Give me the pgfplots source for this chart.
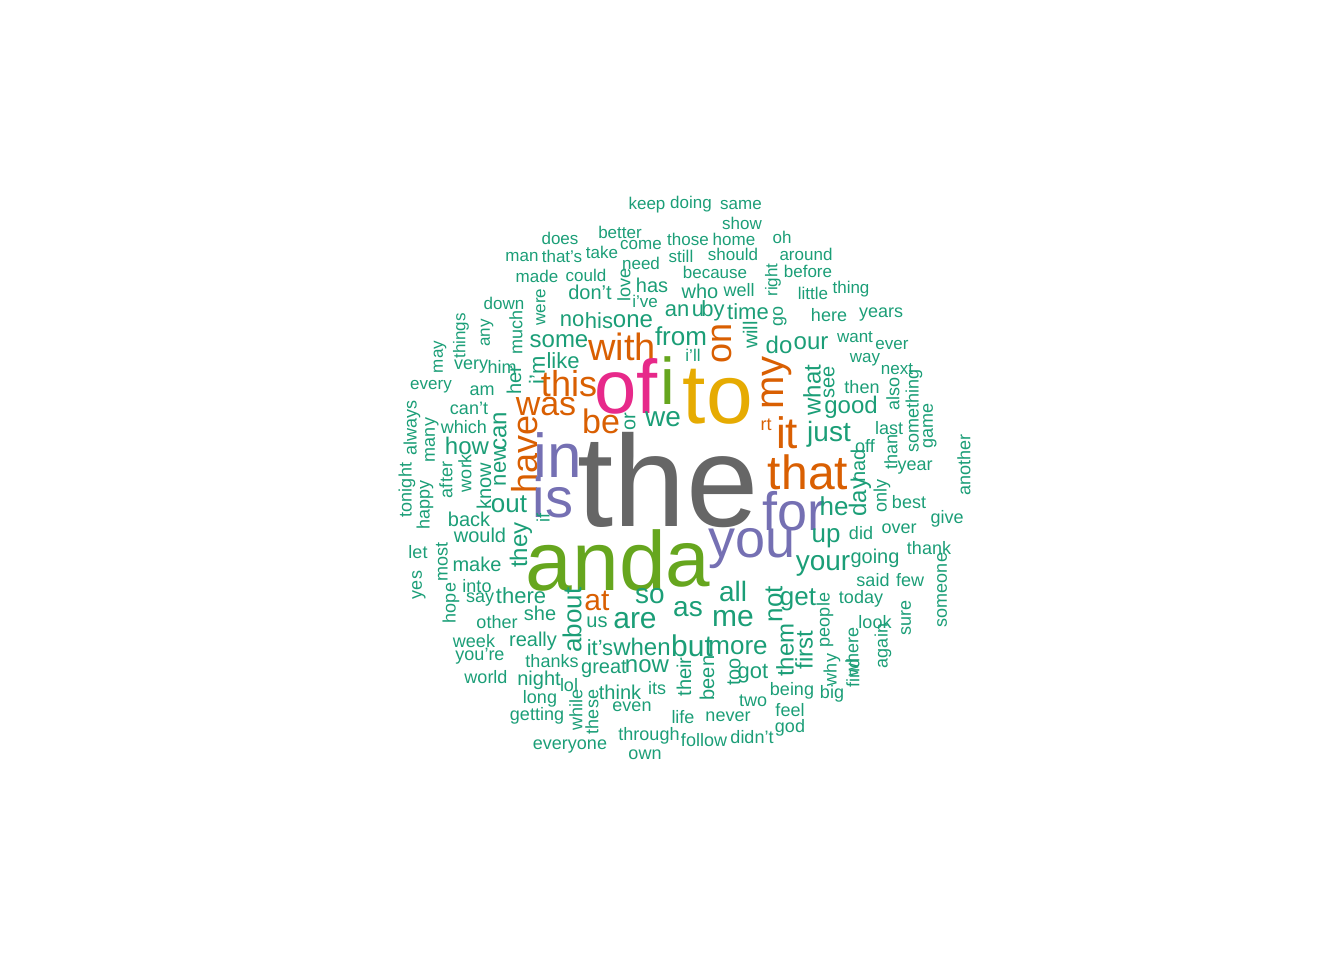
\documentclass[border=0pt]{standalone}
\usepackage{pgfplots}
\pgfplotsset{compat=1.18}
\usepackage{pgfplotstable}
\usepackage{fontspec}
\setmainfont{Liberation Sans}
\definecolor{d0}{HTML}{1B9E77}
\definecolor{d1}{HTML}{D95F02}
\definecolor{d2}{HTML}{7570B3}
\definecolor{d3}{HTML}{E7298A}
\definecolor{d4}{HTML}{66A61E}
\definecolor{d5}{HTML}{E6AB02}
\definecolor{d6}{HTML}{666666}
\pgfplotstableread{
x y s r c w
647 205 8.5 0 0 keep
691 204 8.5 0 0 doing
741 205 8.5 0 0 same
742 223 8.5 0 0 show
560 238 8.5 0 0 does
620 232 8.5 0 0 better
641 245 8.5 0 0 come
688 239 8.5 0 0 those
734 239 8.5 0 0 home
782 237 8.5 0 0 oh
522 257 8.5 0 0 man
562 256 8.5 0 0 that's
602 252 8.5 0 0 take
641 263 8.5 0 0 need
681 256 8.5 0 0 still
733 254 8.5 0 0 should
806 254 8.5 0 0 around
773 280 8.5 90 0 right
808 271 8.5 0 0 before
537 276 8.5 0 0 made
586 275 8.5 0 0 could
624 285 9 90 0 love
715 272 8.5 0 0 because
652 285 10 0 0 has
700 291 10 0 0 who
739 290 9 0 0 well
813 293 8.5 0 0 little
851 289 8.5 0 0 thing
590 292 10 0 0 don't
645 301 8.5 0 0 i've
504 303 8.5 0 0 down
541 307 8.5 90 0 were
461 336 8.5 90 0 things
487 333 8.5 90 0 any
516 332 9 90 0 much
677 311 11 0 0 an
698 311 11 0 0 u
713 311 11 0 0 by
748 312 11 0 0 time
780 316 9 90 0 go
829 315 9 0 0 here
881 315 9 0 0 years
572 321 11 0 0 no
599 321 11 0 0 his
633 321 12 0 0 one
681 336 13 0 0 from
722 343 18 90 1 on
750 335 10 90 0 will
779 345 12 0 0 do
811 343 12 0 0 our
855 337 8.5 0 0 want
892 345 8.5 0 0 ever
440 357 8.5 90 0 may
471 367 9 0 0 very
502 367 9 0 0 him
514 380 10 90 0 her
537 370 11 90 0 i'm
559 341 12 0 0 some
622 347 19 0 1 with
563 361 11 0 0 like
693 355 8.5 0 0 i'll
777 383 20 90 1 my
865 360 8.5 0 0 way
897 369 8.5 0 0 next
812 390 12 90 0 what
829 382 10 90 0 see
862 387 9 0 0 then
893 394 9 90 0 also
914 411 9 90 0 something
431 387 8.5 0 0 every
482 391 9 0 0 am
569 384 18 0 1 this
626 386 38 0 3 of
668 381 33 0 4 i
718 397 42 0 5 to
546 407 17 0 1 was
851 407 12 0 0 good
930 426 9 90 0 game
412 428 9 90 0 always
469 408 9 0 0 can't
500 431 12 90 0 can
601 421 17 0 1 be
630 422 10 90 0 or
663 419 14 0 0 we
766 425 9 0 1 rt
787 433 22 0 1 it
829 434 14 0 0 just
889 428 9 0 0 last
432 440 9 90 0 many
464 427 9 0 0 which
467 446 12 0 0 how
500 466 11 90 0 new
525 454 18 90 1 have
558 455 31 0 2 in
668 480 65 0 6 the
808 472 24 0 1 that
865 446 9 0 0 off
858 466 10 90 0 had
891 452 9 90 0 than
915 468 9 0 0 year
484 486 10 90 0 know
465 473 9 90 0 work
446 480 9 90 0 after
407 490 9 90 0 tonight
425 505 9 90 0 happy
964 465 9 90 0 another
553 497 28 0 2 is
860 497 12 90 0 day
882 496 9 90 0 only
909 502 9 0 0 best
509 504 13 0 0 out
794 511 27 0 2 for
834 506 13 0 0 he
947 519 9 0 0 give
469 519 10 0 0 back
543 518 9 90 0 if
480 535 10 0 0 would
521 545 12 90 0 they
826 538 13 0 0 up
861 533 9 0 0 did
899 529 9 0 0 over
596 560 42 0 4 and
688 565 40 0 4 a
752 549 27 0 2 you
929 548 9 0 0 thank
418 552 9 0 0 let
442 562 9 90 0 most
477 564 10 0 0 make
823 566 14 0 0 your
875 558 10 0 0 going
419 585 9 90 0 yes
477 586 9 0 0 into
480 600 9 0 0 say
873 580 9 0 0 said
910 580 9 0 0 few
942 590 9 90 0 someone
451 603 9 90 0 hope
521 596 11 0 0 there
733 591 14 0 0 all
774 604 13 90 0 not
798 600 13 0 0 get
861 599 9 0 0 today
540 613 10 0 0 she
572 620 13 90 0 about
597 601 15 0 1 at
650 596 14 0 0 so
688 609 14 0 0 as
733 619 15 0 0 me
825 620 9 90 0 people
906 618 9 90 0 sure
497 622 9 0 0 other
597 622 10 0 0 us
635 621 15 0 0 are
875 622 9 0 0 look
852 652 9 90 0 where
883 646 9 90 0 again
474 641 9 0 0 week
533 641 10 0 0 really
600 648 11 0 0 it's
642 647 12 0 0 when
692 646 15 0 0 but
738 648 13 0 0 more
785 650 12 90 0 them
804 650 12 90 0 first
480 656 9 0 0 you're
552 661 9 0 0 thanks
604 669 10 0 0 great
647 666 12 0 0 now
853 673 9 90 0 find
832 670 9 90 0 why
684 677 10 90 0 their
707 678 10 90 0 been
734 672 10 90 0 too
753 674 11 0 0 got
486 677 9 0 0 world
539 680 10 0 0 night
569 685 9 0 0 lol
620 692 10 0 0 think
657 688 9 0 0 its
792 691 9 0 0 being
832 694 9 0 0 big
540 699 9 0 0 long
753 701 9 0 0 two
576 710 9 90 0 while
592 712 9 90 0 these
632 707 9 0 0 even
790 710 9 0 0 feel
537 716 9 0 0 getting
683 717 9 0 0 life
728 717 9 0 0 never
790 728 9 0 0 god
649 736 9 0 0 through
704 740 9 0 0 follow
752 737 9 0 0 didn't
570 747 9 0 0 everyone
645 755 9 0 0 own
}\words
\newcommand\wcol[1]{\ifcase#1\relax\color{d0}\or\color{d1}\or\color{d2}\or\color{d3}\or\color{d4}\or\color{d5}\or\color{d6}\fi}
\begin{document}
\begin{tikzpicture}
\begin{axis}[width=672bp,height=480bp,scale only axis,
  xmin=0,xmax=1344,ymin=0,ymax=960,y dir=reverse,
  hide axis,clip=false]
\addplot[draw=none,mark=none] coordinates {(0,0) (1344,960)};
\addplot[only marks,mark=none,point meta=explicit symbolic,
  visualization depends on={\thisrow{s}\as\ws},
  visualization depends on={\thisrow{r}\as\wr},
  visualization depends on={\thisrow{c}\as\wc},
  nodes near coords={\pgfmathtruncatemacro\wci{\wc}\wcol{\wci}\fontsize{\ws bp}{\ws bp}\selectfont\pgfplotspointmeta},
  every node near coord/.style={anchor=center,rotate=\wr,inner sep=0pt}]
  table[x=x,y=y,meta=w]{\words};
\end{axis}
\end{tikzpicture}
\end{document}
